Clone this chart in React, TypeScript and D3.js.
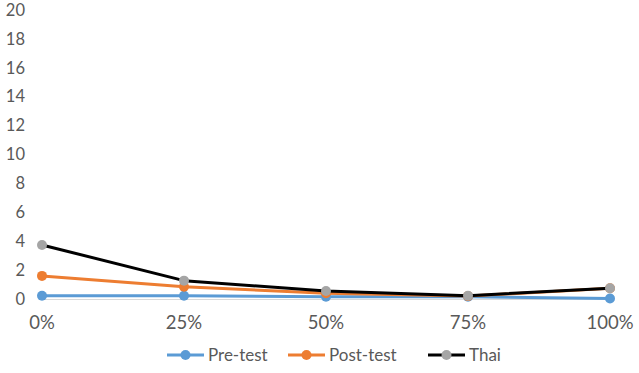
import React, { useRef, useEffect } from 'react';
import * as d3 from 'd3';

const categories = ['0%', '25%', '50%', '75%', '100%'];
const yTicks = [0, 2, 4, 6, 8, 10, 12, 14, 16, 18, 20];
const preTest = [0.23, 0.22, 0.15, 0.15, 0.03];
const postTest = [1.6, 0.85, 0.4, 0.2, 0.74];
const thai = [3.74, 1.27, 0.55, 0.23, 0.74];

const seriesList = [
  { name: 'Pre-test', values: preTest, line: '#5B9BD5', marker: '#5B9BD5' },
  { name: 'Post-test', values: postTest, line: '#ED7D31', marker: '#ED7D31' },
  { name: 'Thai', values: thai, line: '#000000', marker: '#A5A5A5' },
];

const App: React.FC = () => {
  const svgRef = useRef<SVGSVGElement | null>(null);

  useEffect(() => {
    if (!svgRef.current) return;
    const W = 639;
    const H = 373;
    const svg = d3.select(svgRef.current);
    svg.selectAll('*').remove();
    svg.attr('width', W).attr('height', H).style('background', '#fff');

    const font = 'Lato, "Open Sans", sans-serif';
    const textColor = '#595959';

    const x = d3.scalePoint<string>().domain(categories).range([42, 610]);
    const y = d3.scaleLinear().domain([0, 20]).range([299, 10]);

    // axis line
    svg
      .append('line')
      .attr('x1', 42)
      .attr('x2', 610)
      .attr('y1', y(0) + 0.5)
      .attr('y2', y(0) + 0.5)
      .attr('stroke', '#d9d9d9')
      .attr('stroke-width', 1);

    // y labels
    svg
      .append('g')
      .selectAll('text')
      .data(yTicks)
      .enter()
      .append('text')
      .attr('x', 25)
      .attr('y', (d) => y(d))
      .attr('dy', '0.35em')
      .attr('text-anchor', 'end')
      .attr('font-family', font)
      .attr('font-size', 16.5)
      .attr('fill', textColor)
      .text((d) => d);

    // x labels
    svg
      .append('g')
      .selectAll('text')
      .data(categories)
      .enter()
      .append('text')
      .attr('x', (d) => x(d)!)
      .attr('y', 323)
      .attr('dy', '0.35em')
      .attr('text-anchor', 'middle')
      .attr('font-family', font)
      .attr('font-size', 18.5)
      .attr('fill', textColor)
      .text((d) => d);

    const line = d3
      .line<number>()
      .x((_, i) => x(categories[i])!)
      .y((d) => y(d));

    seriesList.forEach((s) => {
      const g = svg.append('g');
      g.append('path')
        .attr('d', line(s.values)!)
        .attr('fill', 'none')
        .attr('stroke', s.line)
        .attr('stroke-width', 3)
        .attr('stroke-linejoin', 'round');
      g.selectAll('circle')
        .data(s.values)
        .enter()
        .append('circle')
        .attr('cx', (_, i) => x(categories[i])!)
        .attr('cy', (d) => y(d))
        .attr('r', 5)
        .attr('fill', s.marker);
    });

    // legend
    const legendX = [167, 288, 428];
    const legendY = 355;
    seriesList.forEach((s, i) => {
      const g = svg.append('g').attr('transform', `translate(${legendX[i]},${legendY})`);
      g.append('line')
        .attr('x1', 0)
        .attr('x2', 37)
        .attr('y1', 0)
        .attr('y2', 0)
        .attr('stroke', s.line)
        .attr('stroke-width', 3);
      g.append('circle').attr('cx', 18.5).attr('cy', 0).attr('r', 5).attr('fill', s.marker);
      g.append('text')
        .attr('x', 41)
        .attr('y', 0)
        .attr('dy', '0.35em')
        .attr('font-family', font)
        .attr('font-size', 17)
        .attr('fill', textColor)
        .text(s.name);
    });
  }, []);

  return <svg ref={svgRef} style={{ position: 'absolute', left: 0, top: 0 }} />;
};

export default App;
